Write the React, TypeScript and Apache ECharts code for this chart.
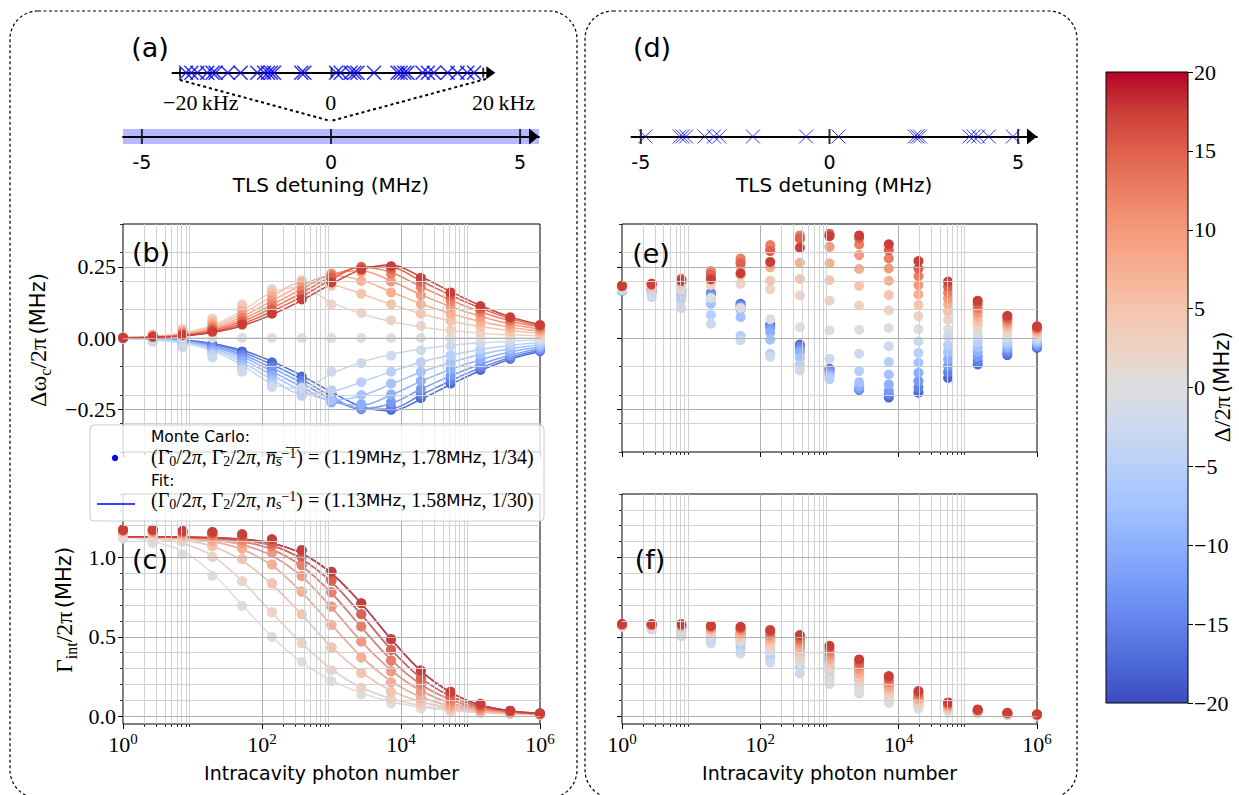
import React, { useEffect, useRef } from "react";
import * as echarts from "echarts";

// ---------------- data ----------------
const photonNumbers = [1, 2.683, 7.197, 19.31, 51.79, 138.9, 372.8, 1000, 2683, 7197, 19307, 51795, 138950, 372759, 1000000];
const detunings = [-17.5, -15, -12.5, -10, -7.5, -5, -2.5, 0, 2.5, 5, 7.5, 10, 12.5, 15, 17.5];

// TLS detunings, panel (a) zoom in kHz and panel (d) in MHz
const tlsDetuningsA_kHz = [-19.2, -18.5, -17.7, -16.4, -15.7, -15.3, -13.7, -12.0, -9.8, -8.9, -8.4, -8.0, -7.6, -4.0, -3.6, 0.6, 1.2, 2.5, 3.0, 3.4, 5.6, 8.7, 9.1, 9.6, 10.0, 12.0, 12.7, 13.5, 15.3, 16.6, 17.9, 18.8];
const tlsDetuningsD_MHz = [-4.88, -3.97, -3.89, -3.8, -3.31, -3.06, -2.92, -2.03, -0.62, 0.24, 2.26, 2.33, 2.4, 3.71, 3.82, 3.94, 4.22, 4.86];

// (b) Monte Carlo frequency shift (MHz) for Δ = 0, +2.5 ... +17.5 (negative Δ mirror)
const shiftMcB_zero = [0, 0, 0, 0, 0, 0, 0, 0, 0, 0, 0, 0, 0, 0, 0];
const shiftMcB = [
  [0.003, 0.013, 0.032, 0.068, 0.118, 0.172, 0.175, 0.118, 0.088, 0.062, 0.043, 0.028, 0.018, 0.011, 0.007],
  [0.002, 0.011, 0.028, 0.060, 0.108, 0.162, 0.203, 0.183, 0.155, 0.118, 0.085, 0.060, 0.040, 0.025, 0.016],
  [0.002, 0.009, 0.024, 0.052, 0.095, 0.148, 0.195, 0.218, 0.200, 0.160, 0.118, 0.085, 0.057, 0.037, 0.024],
  [0.001, 0.008, 0.020, 0.044, 0.082, 0.132, 0.182, 0.226, 0.232, 0.198, 0.150, 0.110, 0.075, 0.049, 0.031],
  [0.001, 0.006, 0.016, 0.036, 0.070, 0.117, 0.167, 0.222, 0.246, 0.225, 0.178, 0.132, 0.091, 0.060, 0.038],
  [0.001, 0.005, 0.013, 0.029, 0.058, 0.101, 0.151, 0.212, 0.250, 0.243, 0.197, 0.148, 0.103, 0.068, 0.043],
  [0.000, 0.004, 0.010, 0.022, 0.047, 0.085, 0.135, 0.195, 0.240, 0.252, 0.211, 0.160, 0.112, 0.073, 0.046],
];
// (b) fit lines
const shiftFitB = [
  [0.001, 0.006, 0.018, 0.045, 0.095, 0.160, 0.178, 0.125, 0.085, 0.058, 0.039, 0.026, 0.017, 0.011, 0.007],
  [0.001, 0.005, 0.015, 0.040, 0.085, 0.145, 0.195, 0.188, 0.155, 0.118, 0.085, 0.060, 0.040, 0.026, 0.016],
  [0.001, 0.004, 0.013, 0.035, 0.075, 0.130, 0.185, 0.218, 0.203, 0.162, 0.120, 0.086, 0.058, 0.038, 0.024],
  [0.001, 0.004, 0.011, 0.030, 0.066, 0.117, 0.172, 0.224, 0.236, 0.200, 0.152, 0.110, 0.076, 0.049, 0.031],
  [0.000, 0.003, 0.010, 0.026, 0.058, 0.105, 0.158, 0.215, 0.248, 0.230, 0.180, 0.133, 0.092, 0.060, 0.038],
  [0.000, 0.003, 0.008, 0.022, 0.050, 0.093, 0.145, 0.205, 0.250, 0.248, 0.200, 0.150, 0.105, 0.068, 0.043],
  [0.000, 0.002, 0.007, 0.019, 0.043, 0.082, 0.132, 0.190, 0.240, 0.256, 0.215, 0.163, 0.114, 0.074, 0.047],
];

// (c) internal loss (MHz) for |Δ| = 0, 2.5 ... 17.5
const gammaMcC = [
  [1.12, 1.09, 1.02, 0.883, 0.695, 0.500, 0.341, 0.220, 0.136, 0.080, 0.048, 0.028, 0.018, 0.011, 0.007],
  [1.15, 1.13, 1.10, 1.004, 0.850, 0.655, 0.460, 0.289, 0.178, 0.105, 0.063, 0.035, 0.022, 0.013, 0.008],
  [1.16, 1.15, 1.13, 1.070, 0.990, 0.837, 0.642, 0.433, 0.272, 0.151, 0.084, 0.045, 0.027, 0.016, 0.009],
  [1.17, 1.16, 1.14, 1.100, 1.056, 0.956, 0.785, 0.575, 0.370, 0.213, 0.115, 0.058, 0.034, 0.019, 0.010],
  [1.17, 1.16, 1.15, 1.120, 1.090, 1.030, 0.883, 0.690, 0.470, 0.282, 0.157, 0.077, 0.042, 0.022, 0.012],
  [1.17, 1.17, 1.16, 1.140, 1.110, 1.070, 0.952, 0.780, 0.565, 0.350, 0.200, 0.098, 0.051, 0.026, 0.013],
  [1.17, 1.17, 1.16, 1.150, 1.130, 1.090, 1.004, 0.854, 0.642, 0.418, 0.240, 0.125, 0.062, 0.030, 0.015],
  [1.175, 1.175, 1.167, 1.160, 1.146, 1.115, 1.046, 0.910, 0.711, 0.485, 0.287, 0.153, 0.077, 0.034, 0.017],
];
const gammaFitC = [
  [1.125, 1.100, 1.040, 0.900, 0.700, 0.500, 0.340, 0.225, 0.145, 0.090, 0.055, 0.034, 0.021, 0.013, 0.008],
  [1.128, 1.120, 1.090, 1.010, 0.850, 0.650, 0.460, 0.295, 0.180, 0.110, 0.066, 0.040, 0.024, 0.015, 0.009],
  [1.130, 1.125, 1.110, 1.070, 0.980, 0.830, 0.640, 0.435, 0.275, 0.160, 0.090, 0.051, 0.029, 0.017, 0.010],
  [1.130, 1.128, 1.120, 1.100, 1.050, 0.950, 0.780, 0.575, 0.375, 0.220, 0.120, 0.064, 0.035, 0.020, 0.011],
  [1.130, 1.130, 1.125, 1.110, 1.080, 1.010, 0.880, 0.685, 0.470, 0.290, 0.160, 0.082, 0.042, 0.023, 0.012],
  [1.130, 1.130, 1.127, 1.120, 1.100, 1.050, 0.945, 0.775, 0.560, 0.355, 0.200, 0.103, 0.050, 0.026, 0.013],
  [1.130, 1.130, 1.128, 1.123, 1.110, 1.075, 0.990, 0.845, 0.640, 0.420, 0.240, 0.125, 0.060, 0.029, 0.015],
  [1.130, 1.130, 1.129, 1.125, 1.115, 1.090, 1.025, 0.900, 0.710, 0.485, 0.285, 0.150, 0.070, 0.033, 0.016],
];

// (e) Monte Carlo frequency shift, one row per Δ (−17.5 ... 17.5)
const shiftMcE = [
  [0.166, 0.172, 0.170, 0.158, 0.120, 0.047, -0.023, -0.108, -0.182, -0.209, -0.192, -0.140, -0.093, -0.060, -0.035],
  [0.166, 0.170, 0.168, 0.155, 0.116, 0.040, -0.030, -0.112, -0.180, -0.198, -0.174, -0.120, -0.080, -0.052, -0.030],
  [0.166, 0.168, 0.165, 0.151, 0.110, 0.035, -0.041, -0.120, -0.178, -0.186, -0.151, -0.098, -0.065, -0.042, -0.024],
  [0.166, 0.166, 0.160, 0.140, 0.100, 0.020, -0.052, -0.128, -0.170, -0.163, -0.122, -0.075, -0.050, -0.033, -0.018],
  [0.167, 0.163, 0.150, 0.120, 0.073, -0.006, -0.070, -0.135, -0.155, -0.128, -0.087, -0.050, -0.033, -0.023, -0.012],
  [0.168, 0.155, 0.134, 0.081, 0.008, -0.055, -0.095, -0.145, -0.116, -0.084, -0.052, -0.025, -0.015, -0.012, -0.006],
  [0.170, 0.143, 0.105, 0.050, -0.008, -0.066, -0.114, -0.073, -0.055, -0.029, -0.012, 0.005, 0.005, 0.000, 0.000],
  [0.180, 0.178, 0.170, 0.140, 0.105, 0.066, 0.038, 0.027, 0.029, 0.035, 0.031, 0.030, 0.022, 0.012, 0.006],
  [0.180, 0.176, 0.180, 0.186, 0.190, 0.171, 0.149, 0.131, 0.114, 0.097, 0.076, 0.064, 0.042, 0.027, 0.014],
  [0.181, 0.180, 0.190, 0.200, 0.220, 0.201, 0.207, 0.203, 0.183, 0.151, 0.116, 0.093, 0.059, 0.036, 0.019],
  [0.182, 0.184, 0.200, 0.215, 0.250, 0.248, 0.264, 0.262, 0.242, 0.201, 0.153, 0.118, 0.075, 0.045, 0.024],
  [0.182, 0.186, 0.206, 0.230, 0.270, 0.315, 0.346, 0.320, 0.291, 0.244, 0.186, 0.140, 0.090, 0.054, 0.029],
  [0.183, 0.188, 0.208, 0.235, 0.279, 0.326, 0.360, 0.360, 0.328, 0.279, 0.217, 0.160, 0.104, 0.062, 0.033],
  [0.183, 0.190, 0.205, 0.222, 0.262, 0.305, 0.350, 0.366, 0.350, 0.308, 0.244, 0.180, 0.118, 0.070, 0.037],
  [0.183, 0.190, 0.200, 0.206, 0.227, 0.267, 0.317, 0.357, 0.360, 0.329, 0.270, 0.198, 0.131, 0.078, 0.041],
];
// (f) Monte Carlo internal loss, one row per Δ (−17.5 ... 17.5)
const gammaMcF = [
  [0.574, 0.570, 0.562, 0.542, 0.520, 0.490, 0.450, 0.380, 0.300, 0.200, 0.120, 0.066, 0.034, 0.017, 0.009],
  [0.572, 0.568, 0.558, 0.535, 0.510, 0.475, 0.430, 0.360, 0.280, 0.185, 0.110, 0.062, 0.032, 0.016, 0.009],
  [0.570, 0.565, 0.550, 0.525, 0.495, 0.455, 0.410, 0.340, 0.260, 0.170, 0.100, 0.056, 0.029, 0.014, 0.008],
  [0.568, 0.560, 0.540, 0.515, 0.479, 0.430, 0.380, 0.310, 0.230, 0.150, 0.088, 0.050, 0.026, 0.012, 0.007],
  [0.567, 0.555, 0.530, 0.500, 0.455, 0.400, 0.350, 0.280, 0.200, 0.130, 0.075, 0.045, 0.023, 0.010, 0.006],
  [0.565, 0.550, 0.515, 0.480, 0.426, 0.370, 0.311, 0.240, 0.170, 0.110, 0.062, 0.040, 0.020, 0.008, 0.005],
  [0.563, 0.546, 0.504, 0.458, 0.395, 0.336, 0.269, 0.202, 0.143, 0.084, 0.048, 0.032, 0.017, 0.006, 0.004],
  [0.568, 0.560, 0.545, 0.512, 0.470, 0.410, 0.335, 0.221, 0.160, 0.100, 0.058, 0.034, 0.018, 0.009, 0.005],
  [0.570, 0.565, 0.552, 0.526, 0.490, 0.440, 0.370, 0.285, 0.205, 0.130, 0.075, 0.041, 0.021, 0.010, 0.005],
  [0.572, 0.568, 0.560, 0.538, 0.508, 0.465, 0.405, 0.325, 0.242, 0.158, 0.092, 0.050, 0.025, 0.012, 0.006],
  [0.574, 0.571, 0.566, 0.548, 0.525, 0.488, 0.435, 0.357, 0.272, 0.180, 0.107, 0.058, 0.029, 0.014, 0.007],
  [0.576, 0.574, 0.571, 0.556, 0.538, 0.505, 0.458, 0.383, 0.296, 0.200, 0.120, 0.066, 0.033, 0.016, 0.008],
  [0.578, 0.576, 0.575, 0.562, 0.548, 0.518, 0.478, 0.405, 0.318, 0.218, 0.133, 0.073, 0.036, 0.018, 0.009],
  [0.580, 0.578, 0.578, 0.566, 0.556, 0.530, 0.495, 0.425, 0.338, 0.235, 0.145, 0.080, 0.039, 0.019, 0.010],
  [0.580, 0.580, 0.580, 0.569, 0.563, 0.542, 0.511, 0.443, 0.357, 0.252, 0.158, 0.086, 0.042, 0.021, 0.011],
];

// tick definitions
const xMajorTicks = [1, 100, 10000, 1000000];
const xMinorTicks = [1, 100, 10000].flatMap((d) => [2, 3, 4, 5, 6, 7, 8, 9].map((m) => m * d));
const shiftMajorTicks = [-0.25, 0, 0.25];
const shiftMinorTicks = [-0.4, -0.3, -0.2, -0.1, 0.1, 0.2, 0.3, 0.4];
const gammaMajorTicks = [0, 0.5, 1.0];
const gammaMinorTicks = [0.1, 0.2, 0.3, 0.4, 0.6, 0.7, 0.8, 0.9, 1.1, 1.2, 1.3, 1.4];
const numberLineTicksMHz = [-5, 0, 5];
const numberLineTicksKHz = [-20, 0, 20];
const colorbarRange = [-20, 20];

// ---------------- style ----------------
const SERIF = "'Liberation Serif', 'DejaVu Serif', serif";
const SANS = "'DejaVu Sans', 'Noto Sans', sans-serif";
const MAJOR_GRID = "#b0b0b0";
const MINOR_GRID = "#d2d2d2";

const coolwarmTable = [
  [59, 76, 192], [77, 104, 215], [98, 130, 234], [119, 154, 247], [141, 176, 254], [163, 194, 255],
  [184, 208, 249], [204, 217, 238], [221, 221, 221], [236, 211, 197], [245, 196, 173], [247, 175, 145],
  [244, 154, 123], [236, 127, 99], [222, 96, 77], [203, 62, 56], [180, 4, 38],
];
function coolwarm(t: number): string {
  const tt = Math.max(0, Math.min(1, t)) * 16;
  const i = Math.min(15, Math.floor(tt));
  const f = tt - i;
  const a = coolwarmTable[i], b = coolwarmTable[i + 1];
  const c = [0, 1, 2].map((k) => Math.round(a[k] + (b[k] - a[k]) * f));
  return `rgb(${c[0]},${c[1]},${c[2]})`;
}
const deltaColor = (d: number) => coolwarm((d - colorbarRange[0]) / (colorbarRange[1] - colorbarRange[0]));

function absIdx(d: number) { return Math.round(Math.abs(d) / 2.5) - 1; }
function shiftMcFor(d: number) {
  if (d === 0) return shiftMcB_zero;
  const r = shiftMcB[absIdx(d)];
  return d > 0 ? r : r.map((v) => -v);
}
function shiftFitFor(d: number) {
  if (d === 0) return shiftMcB_zero;
  const r = shiftFitB[absIdx(d)];
  return d > 0 ? r : r.map((v) => -v);
}

const tickRich = {
  b: { fontFamily: SERIF, fontSize: 22, lineHeight: 26, verticalAlign: "middle", color: "#000" },
  p: { fontFamily: SERIF, fontSize: 15, lineHeight: 12, verticalAlign: "top", color: "#000" },
};
const nameRich = {
  m: { fontFamily: SERIF, fontSize: 24, lineHeight: 30, verticalAlign: "middle", fill: "#000" },
  s: { fontFamily: SERIF, fontSize: 16, lineHeight: 15, verticalAlign: "bottom", fill: "#000" },
  t: { fontFamily: SANS, fontSize: 21, lineHeight: 30, verticalAlign: "middle", fill: "#000" },
};

function buildOption(): any {
  const grid = [
    { left: 123, top: 224, width: 417, height: 228, show: true, borderColor: "#000", borderWidth: 1, backgroundColor: "transparent" },
    { left: 123, top: 494, width: 417, height: 230, show: true, borderColor: "#000", borderWidth: 1, backgroundColor: "transparent" },
    { left: 622, top: 224, width: 415, height: 228, show: true, borderColor: "#000", borderWidth: 1, backgroundColor: "transparent" },
    { left: 622, top: 494, width: 415, height: 230, show: true, borderColor: "#000", borderWidth: 1, backgroundColor: "transparent" },
    { left: 172.4, top: 65.7, width: 318.4, height: 14, show: false },
    { left: 123, top: 129, width: 416, height: 15, show: true, borderWidth: 0, backgroundColor: "rgba(0,0,255,0.28)" },
    { left: 631.4, top: 129, width: 405.6, height: 15, show: false },
    {
      left: 1106, top: 72, width: 82, height: 631, show: true, borderColor: "#000", borderWidth: 1,
      backgroundColor: new echarts.graphic.LinearGradient(0, 0, 0, 1,
        coolwarmTable.map((c, i) => ({ offset: i / 16, color: `rgb(${coolwarmTable[16 - i].join(",")})` }))),
    },
  ];

  const logMajor = (gridIndex: number, labels: boolean) => ({
    type: "log", logBase: 10, gridIndex, min: 1, max: 1000000, position: "bottom",
    axisLine: { show: false, onZero: false }, splitLine: { show: false },
    axisTick: { show: true, customValues: xMajorTicks, length: 5, lineStyle: { color: "#000", width: 1 } },
    axisLabel: {
      show: labels, customValues: xMajorTicks, margin: 7,
      formatter: (v: number) => `{b|10}{p|${Math.round(Math.log10(v))}}`, rich: tickRich,
    },
    name: labels ? "Intracavity photon number" : "", nameLocation: "middle", nameGap: 39,
    nameTextStyle: { fontFamily: SANS, fontSize: 19, color: "#000" },
  });
  const logMinor = (gridIndex: number) => ({
    type: "log", logBase: 10, gridIndex, min: 1, max: 1000000, position: "bottom",
    axisLine: { show: false, onZero: false }, splitLine: { show: false },
    axisTick: { show: true, customValues: xMinorTicks, length: 3, lineStyle: { color: "#000", width: 0.8 } },
    axisLabel: { show: false },
  });
  const valMajor = (gridIndex: number, min: number, max: number, ticks: number[], labels: boolean, digits: number) => ({
    type: "value", gridIndex, min, max, position: "left",
    axisLine: { show: false, onZero: false }, splitLine: { show: false },
    axisTick: { show: true, customValues: ticks, length: 5, lineStyle: { color: "#000", width: 1 } },
    axisLabel: {
      show: labels, customValues: ticks, margin: 7, fontFamily: SERIF, fontSize: 22, color: "#000",
      formatter: (v: number) => (v < 0 ? "\u2212" : "") + Math.abs(v).toFixed(digits),
    },
  });
  const valMinor = (gridIndex: number, min: number, max: number, ticks: number[]) => ({
    type: "value", gridIndex, min, max, position: "left",
    axisLine: { show: false, onZero: false }, splitLine: { show: false },
    axisTick: { show: true, customValues: ticks, length: 3, lineStyle: { color: "#000", width: 0.8 } },
    axisLabel: { show: false },
  });
  const numberLineX = (gridIndex: number, min: number, max: number, labels: boolean, arrow: number[], offset: number) => ({
    type: "value", gridIndex, min, max,
    axisLine: {
      show: true, onZero: true, lineStyle: { color: "#000", width: 1.8 },
      symbol: ["none", "triangle"], symbolSize: arrow, symbolOffset: [0, offset],
    },
    axisTick: { show: false }, splitLine: { show: false },
    axisLabel: {
      show: labels, customValues: numberLineTicksMHz, margin: 8, fontFamily: SANS, fontSize: 19, color: "#000",
      formatter: (v: number) => (v < 0 ? "-" + -v : String(v)),
    },
    name: labels ? "TLS detuning (MHz)" : "", nameLocation: "middle", nameGap: 31,
    nameTextStyle: { fontFamily: SANS, fontSize: 20, color: "#000" },
  });
  const hiddenY = (gridIndex: number) => ({ type: "value", gridIndex, min: -1, max: 1, show: false });

  const xAxis = [
    logMajor(0, false), logMinor(0),
    logMajor(1, true), logMinor(1),
    logMajor(2, false), logMinor(2),
    logMajor(3, true), logMinor(3),
    numberLineX(4, -21, 21, false, [13, 9], 0),
    numberLineX(5, -5.5, 5.5, true, [16, 10], -5),
    numberLineX(6, -5.25, 5.5, true, [16, 10], -5),
    { type: "value", gridIndex: 7, min: 0, max: 1, show: false },
  ];
  const yAxis = [
    valMajor(0, -0.4, 0.4, shiftMajorTicks, true, 2),
    valMinor(0, -0.4, 0.4, shiftMinorTicks),
    valMajor(1, -0.05, 1.4, gammaMajorTicks, true, 1),
    valMinor(1, -0.05, 1.4, gammaMinorTicks),
    valMajor(2, -0.4, 0.4, shiftMajorTicks, false, 2),
    valMinor(2, -0.4, 0.4, shiftMinorTicks),
    valMajor(3, -0.05, 1.4, gammaMajorTicks, false, 1),
    valMinor(3, -0.05, 1.4, gammaMinorTicks),
    hiddenY(4), hiddenY(5), hiddenY(6),
    {
      type: "value", gridIndex: 7, min: colorbarRange[0], max: colorbarRange[1], interval: 5, position: "right",
      axisLine: { show: false, onZero: false }, splitLine: { show: false },
      axisTick: { show: true, length: 5, lineStyle: { color: "#000", width: 1 } },
      axisLabel: {
        margin: 6, fontFamily: SERIF, fontSize: 22, color: "#000",
        formatter: (v: number) => (v < 0 ? "\u2212" + -v : String(v)),
      },
    },
  ];

  const series: any[] = [];
  const gridLines = (xi: number, yi: number, yMinor: number[], yMajor: number[]) => ({
    type: "line", xAxisIndex: xi, yAxisIndex: yi, data: [], silent: true, z: 1,
    markLine: {
      silent: true, symbol: ["none", "none"], label: { show: false }, animation: false,
      emphasis: { disabled: true },
      data: [
        ...xMinorTicks.map((v) => ({ xAxis: v, lineStyle: { color: MINOR_GRID, width: 1, type: "solid" } })),
        ...yMinor.map((v) => ({ yAxis: v, lineStyle: { color: MINOR_GRID, width: 1, type: "solid" } })),
        ...[100, 10000].map((v) => ({ xAxis: v, lineStyle: { color: MAJOR_GRID, width: 1, type: "solid" } })),
        ...yMajor.map((v) => ({ yAxis: v, lineStyle: { color: MAJOR_GRID, width: 1, type: "solid" } })),
      ],
    },
  });
  series.push(gridLines(0, 0, [-0.3, -0.2, -0.1, 0.1, 0.2, 0.3], shiftMajorTicks));
  series.push(gridLines(2, 2, gammaMinorTicks.filter((v) => v < 1.4), gammaMajorTicks));
  series.push(gridLines(4, 4, [-0.3, -0.2, -0.1, 0.1, 0.2, 0.3], shiftMajorTicks));
  series.push(gridLines(6, 6, gammaMinorTicks.filter((v) => v < 1.4), gammaMajorTicks));

  const pts = (vals: number[]) => photonNumbers.map((n, i) => [n, vals[i]]);
  const scatter = (xi: number, yi: number, vals: number[], color: string) => ({
    type: "scatter", xAxisIndex: xi, yAxisIndex: yi, data: pts(vals), symbolSize: 10,
    itemStyle: { color, opacity: 1 }, z: 3, silent: true,
  });
  const fitLine = (xi: number, yi: number, vals: number[], color: string) => ({
    type: "line", xAxisIndex: xi, yAxisIndex: yi, data: pts(vals), showSymbol: false, symbol: "none",
    smooth: 0.35, lineStyle: { color, width: 1.5 }, z: 3, silent: true,
  });

  detunings.forEach((d) => {
    const color = deltaColor(d);
    series.push(scatter(0, 0, shiftMcFor(d), color));
    series.push(fitLine(0, 0, shiftFitFor(d), color));
  });
  detunings.forEach((d) => {
    const color = deltaColor(d);
    const k = Math.round(Math.abs(d) / 2.5);
    series.push(scatter(2, 2, gammaMcC[k], color));
    series.push(fitLine(2, 2, gammaFitC[k], color));
  });
  detunings.forEach((d, i) => {
    series.push(scatter(4, 4, shiftMcE[i], deltaColor(d)));
  });
  detunings.forEach((d, i) => {
    series.push(scatter(6, 6, gammaMcF[i], deltaColor(d)));
  });

  // number lines: tick marks and TLS markers
  const tickMarks = (xi: number, yi: number, ticks: number[], size: number[]) => ({
    type: "scatter", xAxisIndex: xi, yAxisIndex: yi, data: ticks.map((t) => [t, 0]),
    symbol: "rect", symbolSize: size, itemStyle: { color: "#000" }, z: 4, silent: true,
  });
  const xMarker = "path://M0,0L10,10M10,0L0,10";
  const tlsMarks = (xi: number, yi: number, vals: number[], size: number, width: number) => ({
    type: "scatter", xAxisIndex: xi, yAxisIndex: yi, data: vals.map((v) => [v, 0]),
    symbol: xMarker, symbolSize: size,
    itemStyle: { color: "rgba(0,0,0,0)", borderColor: "#0000ff", borderWidth: width }, z: 5, silent: true,
  });
  series.push(tickMarks(8, 8, numberLineTicksKHz, [2, 10]));
  series.push(tickMarks(9, 9, numberLineTicksMHz, [2, 15]));
  series.push(tickMarks(10, 10, numberLineTicksMHz, [2, 15]));
  series.push(tlsMarks(8, 8, tlsDetuningsA_kHz, 14, 1.6));
  series.push(tlsMarks(10, 10, tlsDetuningsD_MHz, 14, 1));

  const panelLabel = (text: string, x: number, y: number) => ({
    type: "text", x, y, z: 50,
    style: { text, fontFamily: SANS, fontSize: 27, fill: "#000", align: "center", verticalAlign: "middle" },
  });
  const axisTitle = (text: string, x: number, y: number) => ({
    type: "text", x, y, rotation: Math.PI / 2, z: 50,
    style: { text, rich: nameRich, align: "center", verticalAlign: "middle" },
  });
  const legendRich = {
    m: { fontFamily: SERIF, fontSize: 20, lineHeight: 22, verticalAlign: "middle", fill: "#000" },
    s: { fontFamily: SERIF, fontSize: 14, lineHeight: 12, verticalAlign: "bottom", fill: "#000" },
    p: { fontFamily: SERIF, fontSize: 14, lineHeight: 10, verticalAlign: "top", fill: "#000" },
    i: { fontFamily: SERIF, fontSize: 20, fontStyle: "italic", lineHeight: 22, verticalAlign: "middle", fill: "#000" },
    u: { fontFamily: SANS, fontSize: 16.5, lineHeight: 22, verticalAlign: "middle", fill: "#000" },
  };

  const graphic = [
    { type: "rect", z: 0, shape: { x: 10, y: 11, width: 567, height: 787, r: 28 }, style: { fill: "none", stroke: "#000", lineWidth: 1.2, lineDash: [3, 2.5] } },
    { type: "rect", z: 0, shape: { x: 585, y: 11, width: 492, height: 787, r: 28 }, style: { fill: "none", stroke: "#000", lineWidth: 1.2, lineDash: [3, 2.5] } },
    { type: "line", z: 10, shape: { x1: 180, y1: 80, x2: 330.7, y2: 121 }, style: { stroke: "#000", lineWidth: 2, lineDash: [3, 3] } },
    { type: "line", z: 10, shape: { x1: 486, y1: 79, x2: 330.7, y2: 121 }, style: { stroke: "#000", lineWidth: 2, lineDash: [3, 3] } },
    { type: "text", x: 163, y: 102, z: 10, style: { text: "\u221220\u2009kHz", fontFamily: SERIF, fontSize: 22, fill: "#000", align: "left", verticalAlign: "middle" } },
    { type: "text", x: 330.7, y: 102, z: 10, style: { text: "0", fontFamily: SERIF, fontSize: 22, fill: "#000", align: "center", verticalAlign: "middle" } },
    { type: "text", x: 472, y: 102, z: 10, style: { text: "20\u2009kHz", fontFamily: SERIF, fontSize: 22, fill: "#000", align: "left", verticalAlign: "middle" } },
    panelLabel("(a)", 150, 47),
    panelLabel("(d)", 652, 47),
    panelLabel("(b)", 151, 252),
    panelLabel("(e)", 651, 253),
    panelLabel("(c)", 150, 559),
    panelLabel("(f)", 650, 559),
    axisTitle("{m|\u0394\u03c9}{s|c}{m|/2\u03c0} {t|(MHz)}", 38, 340),
    axisTitle("{m|\u0393}{s|int}{m|/2\u03c0} {t|(MHz)}", 64, 610),
    axisTitle("{m|\u0394/2\u03c0} {t|(MHz)}", 1222, 387),
    // legend
    { type: "rect", z: 60, shape: { x: 90, y: 425, width: 454, height: 96, r: 4 }, style: { fill: "rgba(255,255,255,0.8)", stroke: "#cccccc", lineWidth: 1 } },
    { type: "circle", z: 61, shape: { cx: 115, cy: 458, r: 3.2 }, style: { fill: "#0000ff" } },
    { type: "line", z: 61, shape: { x1: 97, y1: 504, x2: 135, y2: 504 }, style: { stroke: "#0000ff", lineWidth: 1.5 } },
    { type: "text", x: 151, y: 437, z: 61, style: { text: "Monte Carlo:", fontFamily: SANS, fontSize: 15.5, fill: "#000", align: "left", verticalAlign: "middle" } },
    {
      type: "text", x: 151, y: 457, z: 61,
      style: {
        text: "{m|(\u0393\u0304}{s|0}{m|/2}{i|\u03c0}{m|, \u0393\u0304}{s|2}{m|/2}{i|\u03c0}{m|, }{i|n\u0305}{s|s\u0305}{p|\u2212\u03051\u0305}{m|) = (1.19}{u|MHz}{m|, 1.78}{u|MHz}{m|, 1/34)}",
        rich: legendRich, align: "left", verticalAlign: "middle",
      },
    },
    { type: "text", x: 151, y: 481, z: 61, style: { text: "Fit:", fontFamily: SANS, fontSize: 15.5, fill: "#000", align: "left", verticalAlign: "middle" } },
    {
      type: "text", x: 151, y: 500, z: 61,
      style: {
        text: "{m|(\u0393}{s|0}{m|/2}{i|\u03c0}{m|, \u0393}{s|2}{m|/2}{i|\u03c0}{m|, }{i|n}{s|s}{p|\u22121}{m|) = (1.13}{u|MHz}{m|, 1.58}{u|MHz}{m|, 1/30)}",
        rich: legendRich, align: "left", verticalAlign: "middle",
      },
    },
  ];

  return {
    animation: false,
    backgroundColor: "#ffffff",
    grid, xAxis, yAxis, series, graphic,
  };
}

export default function App() {
  const ref = useRef<HTMLDivElement>(null);
  useEffect(() => {
    document.body.style.margin = "0";
    const chart = echarts.init(ref.current as HTMLDivElement, undefined, { renderer: "svg", width: 1239, height: 795 });
    chart.setOption(buildOption());
    return () => chart.dispose();
  }, []);
  return <div ref={ref} style={{ position: "absolute", left: 0, top: 0, width: 1239, height: 795, background: "#fff" }} />;
}
